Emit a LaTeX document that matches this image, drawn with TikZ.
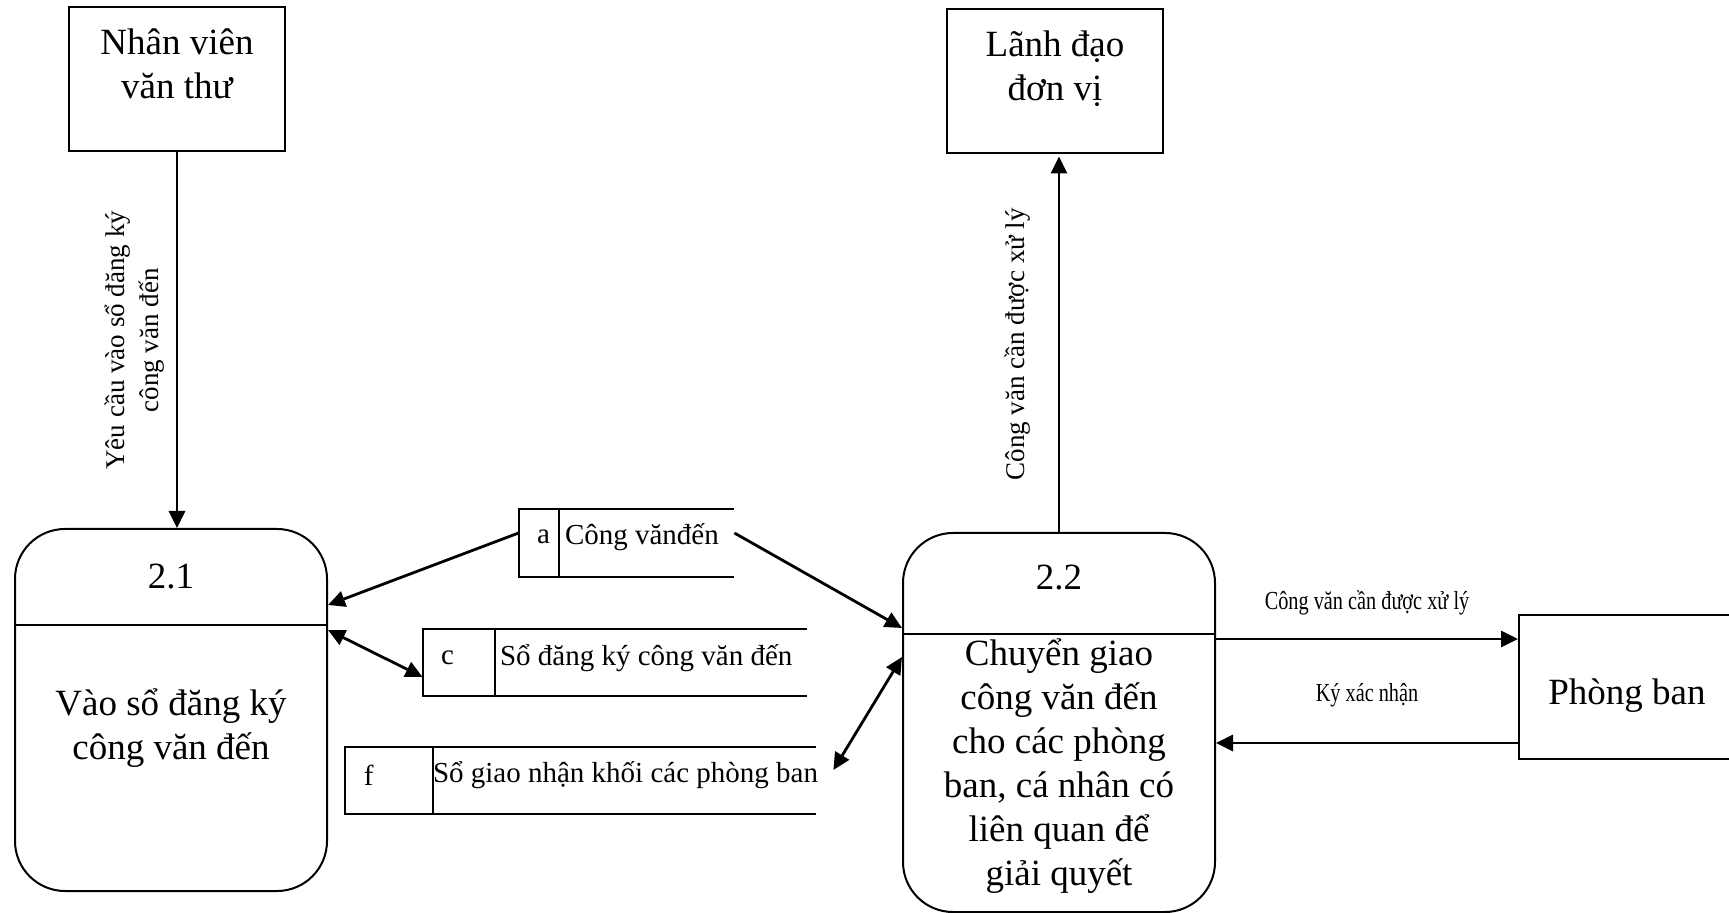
\documentclass[tikz,border=0pt]{standalone}
\usepackage{fontspec}
\setmainfont{Liberation Serif}
\usepackage{graphicx}
\usetikzlibrary{arrows.meta, positioning}

\begin{document}
\begin{tikzpicture}[x=0.5pt, y=-0.5pt, >={Triangle[length=8.5pt, width=8pt]},
  entity/.style={draw, line width=1pt, minimum width=108pt, minimum height=72pt, inner sep=0pt},
  process/.style={draw, line width=1pt, rounded corners=25pt, minimum width=156pt, inner sep=0pt},
  store/.style={inner sep=0pt, minimum height=33.5pt},
  edge/.style={line width=1pt},
  flow/.style={->, line width=1.4pt},
  biflow/.style={<->, line width=1.4pt},
  bigtext/.style={font=\fontsize{18.5}{22}\selectfont, align=center, inner sep=0pt},
  smalltext/.style={font=\fontsize{13.5}{17}\selectfont, align=center, inner sep=0pt},
  tinytext/.style={font=\fontsize{13}{15}\selectfont, inner sep=0pt},
  storetext/.style={font=\fontsize{14.5}{17}\selectfont, inner sep=0pt}]
  % Frame
  \useasboundingbox (0,0) rectangle (1729,913);
  \clip (0,0) rectangle (1729,913);

  % External entities
  \node[entity] (nv) at (177,79.5) {};
  \node[bigtext, below=11pt of nv.north] (nvtext) {Nhân viên\\văn thư};
  \node[entity] (ld) at (1055,81.5) {};
  \node[bigtext, below=11pt of ld.north] (ldtext) {Lãnh đạo\\đơn vị};
  \node[entity] (pb) at (1627,687) {};
  \node[bigtext, yshift=-4.5pt] (pbtext) at (pb) {Phòng ban};

  % Processes
  \node[process, minimum height=181pt] (p1) at (171,710) {};
  \draw[edge] (p1.west |- 0,625) -- (p1.east |- 0,625);
  \node[bigtext] (p1id) at (171,577) {2.1};
  \node[bigtext] (p1name) at (171,728) {Vào sổ đăng ký\\công văn đến};

  \node[process, minimum height=189.5pt] (p2) at (1059,722.5) {};
  \draw[edge] (p2.west |- 0,634) -- (p2.east |- 0,634);
  \node[bigtext] (p2id) at (1059,578) {2.2};
  \node[bigtext] (p2name) at (1059,766) {Chuyển giao\\công văn đến\\cho các phòng\\ban, cá nhân có\\liên quan để\\giải quyết};

  % Data stores
  \node[store, minimum width=107.5pt] (sa) at (626.5,543) {};
  \draw[edge] (sa.north east) -- (sa.north west) -- (sa.south west) -- (sa.south east);
  \draw[edge] ([xshift=20pt]sa.north west) -- ([xshift=20pt]sa.south west);
  \node[storetext] (said) at ([xshift=12.5pt, yshift=3pt]sa.west) {a};
  \node[storetext, anchor=west] (saname) at ([xshift=23pt, yshift=3pt]sa.west) {Công vănđến};

  \node[store, minimum width=192pt] (sc) at (615,662.5) {};
  \draw[edge] (sc.north east) -- (sc.north west) -- (sc.south west) -- (sc.south east);
  \draw[edge] ([xshift=36pt]sc.north west) -- ([xshift=36pt]sc.south west);
  \node[storetext] (scid) at ([xshift=12.5pt, yshift=2.25pt]sc.west) {c};
  \node[storetext, anchor=west] (scname) at ([xshift=38.5pt, yshift=2.25pt]sc.west) {Sổ đăng ký công văn đến};

  \node[store, minimum width=235.5pt] (sf) at (580.5,780.5) {};
  \draw[edge] (sf.north east) -- (sf.north west) -- (sf.south west) -- (sf.south east);
  \draw[edge] ([xshift=44pt]sf.north west) -- ([xshift=44pt]sf.south west);
  \node[storetext] (sfid) at ([xshift=12pt, yshift=2.75pt]sf.west) {f};
  \node[storetext, anchor=west] (sfname) at ([xshift=44pt, yshift=2.75pt]sf.west) {Sổ giao nhận khối các phòng ban};

  % Flows
  \draw[flow] (nv.south) -- (nv.south |- p1.north)
    node[midway, xshift=-21pt, rotate=90, smalltext] (lreq) {Yêu cầu vào sổ đăng ký\\công văn đến};
  \draw[flow] (p2.north) -- ([yshift=-1pt]p2.north |- ld.south)
    node[midway, xshift=-20.5pt, rotate=90, smalltext] (llead) {Công văn cần được xử lý};
  \draw[flow] ([yshift=5pt]sa.west) -- ([yshift=52.5pt]p1.east);
  \draw[biflow] ([yshift=40pt]p1.east) -- ([yshift=-7.25pt]sc.west);
  \draw[flow] ([yshift=5pt]sa.east) -- ([yshift=47.25pt]p2.west);
  \draw[biflow] ([xshift=8.5pt, yshift=5.25pt]sf.east) -- ([yshift=32.75pt]p2.west);

  \coordinate (pbout) at ([yshift=24pt]pb.west);
  \coordinate (pbin) at ([yshift=-28pt]pb.west);
  \draw[flow] (pbout -| p2.east) -- (pbout)
    node[midway, yshift=18pt, tinytext] (lsend) {\scalebox{0.78}[1]{Công văn cần được xử lý}};
  \draw[flow] (pbin) -- (pbin -| p2.east)
    node[midway, yshift=24pt, tinytext] (lsign) {\scalebox{0.78}[1]{Ký xác nhận}};
\end{tikzpicture}
\end{document}
